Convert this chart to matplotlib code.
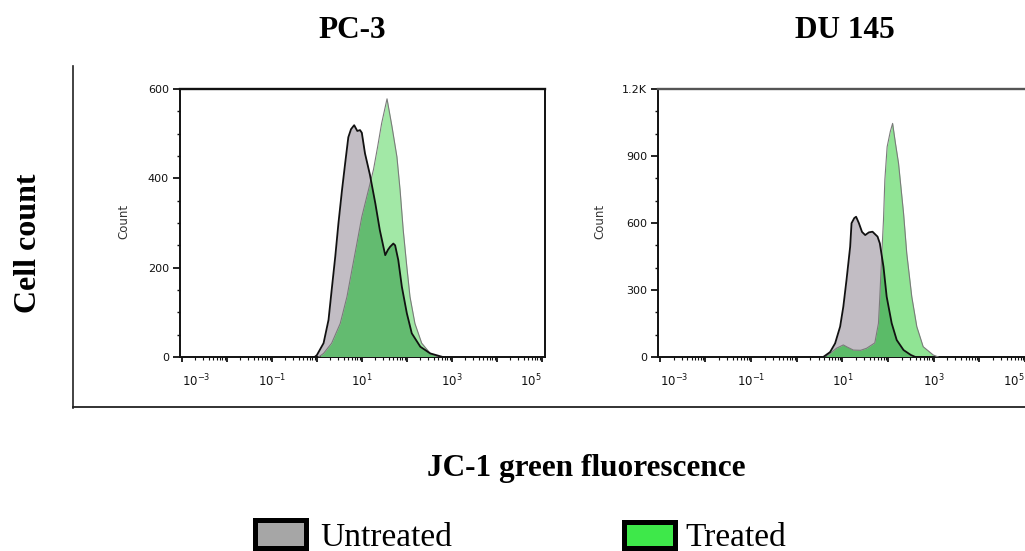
import numpy as np
import matplotlib
matplotlib.use("Agg")
import matplotlib.pyplot as plt
from matplotlib.ticker import FixedLocator, FuncFormatter, MultipleLocator, LogLocator, NullFormatter
from matplotlib.lines import Line2D
from matplotlib.patches import Rectangle

# ---------------- data (log10 JC-1 green intensity, cell count) ----------------
pc3_untreated_log = [-0.05, 0.0, 0.15, 0.26, 0.33, 0.41, 0.48, 0.56, 0.63, 0.70, 0.76, 0.83,
                     0.90, 0.96, 1.00, 1.07, 1.18, 1.30, 1.40, 1.52, 1.58, 1.63, 1.70, 1.74,
                     1.81, 1.89, 2.00, 2.11, 2.30, 2.52, 2.80]
pc3_untreated_cnt = [0, 4, 31, 83, 150, 225, 299, 374, 434, 492, 510, 519,
                     506, 508, 502, 456, 408, 344, 284, 228, 240, 247, 254, 250,
                     217, 157, 98, 53, 23, 8, 0]

pc3_treated_log = [0.04, 0.15, 0.33, 0.52, 0.67, 0.78, 0.89, 1.00, 1.15, 1.26, 1.35, 1.44,
                   1.56, 1.67, 1.78, 1.85, 1.92, 2.00, 2.07, 2.18, 2.33, 2.52, 2.70]
pc3_treated_cnt = [0, 8, 31, 75, 135, 195, 254, 314, 375, 420, 470, 523,
                   578, 516, 448, 374, 284, 202, 135, 75, 31, 8, 0]

du145_untreated_log = [0.58, 0.73, 0.84, 0.95, 1.02, 1.09, 1.17, 1.20, 1.26, 1.30, 1.36, 1.43,
                       1.50, 1.58, 1.66, 1.77, 1.82, 1.90, 1.97, 2.08, 2.19, 2.34, 2.50, 2.60]
du145_untreated_cnt = [0, 22, 61, 136, 225, 345, 494, 599, 622, 628, 600, 560,
                       546, 558, 561, 539, 509, 404, 270, 151, 76, 31, 9, 0]

du145_treated_log = [0.58, 0.69, 0.87, 1.02, 1.10, 1.24, 1.40, 1.53, 1.65, 1.71, 1.79, 1.82,
                     1.86, 1.90, 1.93, 1.98, 2.05, 2.10, 2.16, 2.23, 2.34, 2.41, 2.52, 2.63,
                     2.77, 2.99, 3.10]
du145_treated_cnt = [0, 9, 39, 54, 45, 31, 30, 39, 55, 63, 151, 270,
                     449, 613, 793, 941, 1010, 1046, 960, 867, 643, 464, 270, 136,
                     46, 9, 0]

panel_titles = ["PC-3", "DU 145"]
y_ticks_pc3 = [0, 200, 400, 600]
y_ticks_du145 = [0, 300, 600, 900, 1200]
y_ticklabels_du145 = ["0", "300", "600", "900", "1.2K"]
x_decades = list(range(-3, 6))
legend_labels = ["Untreated", "Treated"]

# ---------------- styling ----------------
W, H = 1025, 551
fig = plt.figure(figsize=(W / 100, H / 100), dpi=100)
fig.patch.set_facecolor("white")

def fx(px):
    return px / W

def fy(py):
    return 1 - py / H

GREY = "#c2bdc4"
LIGHT_GREEN = "#a2e8a6"
DARK_GREEN = "#63bb70"

def draw_panel(ax, ulog, ucnt, tlog, tcnt, light, dark):
    ux = 10.0 ** np.asarray(ulog)
    tx = 10.0 ** np.asarray(tlog)
    ucnt = np.asarray(ucnt)
    tcnt = np.asarray(tcnt)
    ufill = ax.fill_between(ux, 0, ucnt, color=GREY, lw=0, zorder=1)
    ax.fill_between(tx, 0, tcnt, color=light, lw=0, zorder=2)
    ov = ax.fill_between(tx, 0, tcnt, color=dark, lw=0, zorder=3)
    ov.set_clip_path(ufill.get_paths()[0], ax.transData)
    ax.plot(tx, tcnt, color="#7a7a7a", lw=0.8, zorder=4)
    ax.plot(ux, ucnt, color="#111111", lw=1.3, zorder=5)

def style_axis(ax, xlim, ylim, yticks, yticklabels, yminor, top_color, spine_lw):
    ax.set_xscale("log")
    ax.set_xlim(*xlim)
    ax.set_ylim(*ylim)
    ax.xaxis.set_major_locator(FixedLocator([10.0 ** d for d in x_decades]))
    ax.xaxis.set_minor_locator(LogLocator(base=10, subs=np.arange(2, 10), numticks=40))
    ax.xaxis.set_minor_formatter(NullFormatter())

    def xfmt(v, pos):
        e = int(round(np.log10(v)))
        if e % 2 == 0:
            return ""
        return r"$\mathregular{10^{%d}}$" % e
    ax.xaxis.set_major_formatter(FuncFormatter(xfmt))
    ax.set_yticks(yticks)
    ax.set_yticklabels(yticklabels)
    ax.yaxis.set_minor_locator(MultipleLocator(yminor))
    ax.tick_params(axis="y", which="major", direction="out", length=5, width=1.3,
                   labelsize=8, pad=3, colors="#111111")
    ax.tick_params(axis="y", which="minor", direction="out", length=2.5, width=1.0, colors="#111111")
    ax.tick_params(axis="x", which="major", direction="out", length=3.5, width=1.3,
                   labelsize=8.5, pad=8, colors="#111111")
    ax.tick_params(axis="x", which="minor", direction="out", length=2, width=0.8, colors="#111111")
    for s in ["left", "bottom", "right"]:
        ax.spines[s].set_linewidth(spine_lw)
        ax.spines[s].set_color("#111111")
    ax.spines["top"].set_linewidth(spine_lw + 0.3)
    ax.spines["top"].set_color(top_color)

ax1 = fig.add_axes([fx(180), fy(357), fx(545) - fx(180), fy(89) - fy(357)])
ax2 = fig.add_axes([fx(658), fy(357), fx(1030) - fx(658), fy(89) - fy(357)])

draw_panel(ax1, pc3_untreated_log, pc3_untreated_cnt, pc3_treated_log, pc3_treated_cnt,
           LIGHT_GREEN, DARK_GREEN)
draw_panel(ax2, du145_untreated_log, du145_untreated_cnt, du145_treated_log, du145_treated_cnt,
           "#90e494", "#5bbb68")

style_axis(ax1, (10 ** -3.04, 10 ** 5.07), (0, 600), y_ticks_pc3,
           [str(v) for v in y_ticks_pc3], 50, "#111111", 1.4)
style_axis(ax2, (10 ** -3.04, 10 ** 5.11), (0, 1200), y_ticks_du145,
           y_ticklabels_du145, 100, "#555555", 1.4)

fig.canvas.draw()
for ax in (ax1, ax2):
    for t in ax.get_xticklabels():
        if t.get_text() == r"$\mathregular{10^{-3}}$":
            t.set_horizontalalignment("left")
        if t.get_text() == r"$\mathregular{10^{5}}$":
            t.set_horizontalalignment("right")

# small "Count" axis labels
fig.text(fx(124), fy(221), "Count", rotation=90, ha="center", va="center",
         fontsize=8.5, color="#333333")
fig.text(fx(600), fy(221), "Count", rotation=90, ha="center", va="center",
         fontsize=8.5, color="#333333")

# outer frame lines
fig.add_artist(Line2D([fx(73), fx(73)], [fy(66), fy(408)], color="#222222", lw=1.2))
fig.add_artist(Line2D([fx(73), fx(1025)], [fy(407), fy(407)], color="#222222", lw=1.3))

serif = ["Liberation Serif", "DejaVu Serif"]
fig.text(fx(352), fy(38), panel_titles[0], ha="center", va="baseline",
         fontsize=22.5, fontweight="bold", family=serif)
fig.text(fx(845), fy(38), panel_titles[1], ha="center", va="baseline",
         fontsize=22.5, fontweight="bold", family=serif)
fig.text(fx(29), fy(243), "Cell count", rotation=90, ha="center", va="center",
         fontsize=23, fontweight="bold", family=serif)
fig.text(fx(586), fy(476), "JC-1 green fluorescence", ha="center", va="baseline",
         fontsize=22.5, fontweight="bold", family=serif)

# legend
fig.add_artist(Rectangle((fx(255), fy(548)), fx(306) - fx(255), fy(520) - fy(548),
                         transform=fig.transFigure, facecolor="#a6a6a6",
                         edgecolor="black", lw=3.6))
fig.text(fx(320), fy(546), legend_labels[0], ha="left", va="baseline",
         fontsize=24, family=serif)
fig.add_artist(Rectangle((fx(624), fy(548)), fx(675) - fx(624), fy(522) - fy(548),
                         transform=fig.transFigure, facecolor="#3ee84a",
                         edgecolor="black", lw=3.6))
fig.text(fx(685), fy(546), legend_labels[1], ha="left", va="baseline",
         fontsize=24, family=serif)

fig.savefig("out.png", dpi=100, facecolor="white")
